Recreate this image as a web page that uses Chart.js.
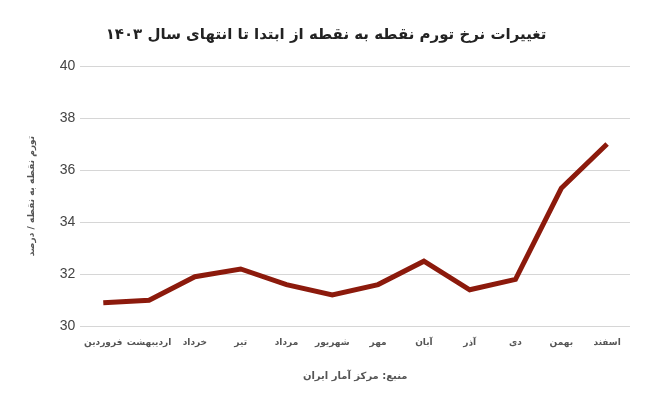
<!DOCTYPE html>
<html>
<head>
<meta charset="utf-8">
<script src="https://cdn.jsdelivr.net/npm/chart.js@4"></script>
<style>
  body { margin: 0; background: #fff; }
  #wrap { width: 650px; height: 402px; }
</style>
</head>
<body>
<div id="wrap"><canvas id="chart"></canvas></div>
<script>
const months = ['فروردین','اردیبهشت','خرداد','تیر','مرداد','شهریور','مهر','آبان','آذر','دی','بهمن','اسفند'];
const inflation = [30.9, 31.0, 31.9, 32.2, 31.6, 31.2, 31.6, 32.5, 31.4, 31.8, 35.3, 37.0];
const yTicks = [30, 32, 34, 36, 38, 40];

const persianFont = '"DejaVu Sans", "Liberation Sans", sans-serif';

new Chart(document.getElementById('chart').getContext('2d'), {
  type: 'line',
  data: {
    labels: months,
    datasets: [{
      label: 'نرخ تورم نقطه به نقطه',
      data: inflation,
      borderColor: '#8c1a0c',
      borderWidth: 5,
      pointRadius: 0,
      tension: 0,
      fill: false
    }]
  },
  options: {
    responsive: true,
    maintainAspectRatio: false,
    animation: false,
    layout: { padding: { top: 8, right: 20, left: 22, bottom: 16 } },
    plugins: {
      legend: { display: false },
      title: {
        display: true,
        text: 'تغییرات نرخ تورم نقطه به نقطه از ابتدا تا انتهای سال ۱۴۰۳',
        color: '#222',
        font: { family: persianFont, size: 15, weight: 'bold' },
        padding: { top: 18, bottom: 22 }
      }
    },
    scales: {
      x: {
        offset: true,
        grid: { display: false },
        border: { display: false },
        ticks: {
          color: '#555',
          font: { family: persianFont, size: 9, weight: 'bold' },
          maxRotation: 0,
          autoSkip: false,
          padding: 3
        },
        title: {
          display: true,
          text: 'منبع: مرکز آمار ایران',
          color: '#555',
          font: { family: persianFont, size: 10, weight: 'bold' },
          padding: { top: 19 }
        }
      },
      y: {
        min: 30,
        max: 40,
        afterBuildTicks: axis => { axis.ticks = yTicks.map(v => ({ value: v })); },
        grid: { color: '#d6d6d6', lineWidth: 1, drawTicks: false },
        border: { display: false },
        ticks: {
          color: '#444',
          font: { family: '"Liberation Sans", Arial, sans-serif', size: 14 },
          padding: 5
        },
        title: {
          display: true,
          text: 'تورم نقطه به نقطه / درصد',
          color: '#555',
          font: { family: persianFont, size: 9, weight: 'bold' },
          padding: { bottom: 18 }
        }
      }
    }
  }
});
</script>
</body>
</html>
